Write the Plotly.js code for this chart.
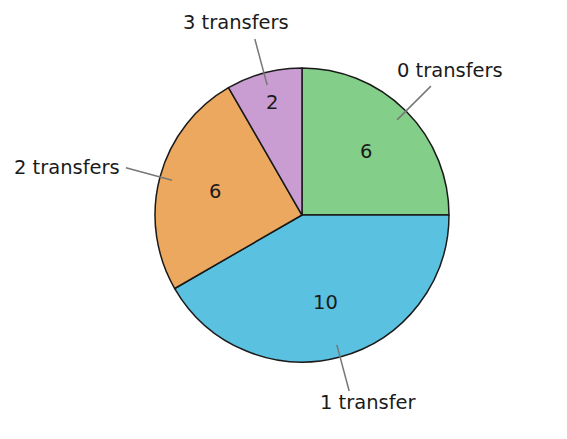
<!DOCTYPE html>
<html>
<head>
<meta charset="utf-8">
<script src="https://cdn.plot.ly/plotly-3.0.1.min.js"></script>
<style>
  html, body { margin: 0; padding: 0; background: #fff; }
  #chart { width: 567px; height: 439px; }
</style>
</head>
<body>
<div id="chart"></div>
<script>
// slices, clockwise from 12 o'clock
var labels = ['0 transfers', '1 transfer', '2 transfers', '3 transfers'];
var counts = [6, 10, 6, 2];
var colors = ['#83cf89', '#5bc1e0', '#eda85f', '#c99dd1'];

var W = 567, H = 439;
var cx = 302 / W, cy = 1 - 215 / H;  // pie centre in paper units
var R = 147;                          // radius in px
var total = counts.reduce(function (a, b) { return a + b; }, 0);
var txtFont = { family: 'DejaVu Sans', size: 19.5, color: '#1a1a1a' };

var trace = {
  type: 'pie',
  labels: labels,
  values: counts,
  sort: false,
  direction: 'clockwise',
  rotation: 0,
  marker: { colors: colors, line: { color: '#1a1a1a', width: 1.5 } },
  textinfo: 'none',
  domain: { x: [cx - R / W, cx + R / W], y: [cy - R / H, cy + R / H] },
  hoverinfo: 'label+value'
};

// leader lines, outside labels and counts, placed at each slice's middle angle
var shapes = [], annotations = [];
var acc = 0;
counts.forEach(function (v, i) {
  var frac = v / total;
  var mid = (acc + v / 2) / total * 2 * Math.PI;
  acc += v;
  var s = Math.sin(mid), c = Math.cos(mid);
  var r0 = 0.915 * R, r1 = 1.24 * R;

  // count inside the slice (thin slices get pushed outwards)
  var rv = (frac < 0.15 ? 0.79 : 0.615) * R;
  annotations.push({
    xref: 'paper', yref: 'paper', showarrow: false,
    x: cx + rv * s / W, y: cy + rv * c / H,
    xanchor: 'center', yanchor: 'middle',
    text: String(v), font: txtFont
  });

  shapes.push({
    type: 'line', xref: 'paper', yref: 'paper',
    x0: cx + r0 * s / W, y0: cy + r0 * c / H,
    x1: cx + r1 * s / W, y1: cy + r1 * c / H,
    line: { color: '#777777', width: 1.5 }
  });
  var a = {
    xref: 'paper', yref: 'paper', showarrow: false,
    x: cx + r1 * s / W, y: cy + r1 * c / H,
    text: labels[i], font: txtFont,
    yanchor: 'middle'
  };
  if (Math.abs(s) > 0.9) {
    a.xanchor = s > 0 ? 'left' : 'right';
    a.xshift = s > 0 ? 4 : -4;
  } else {
    a.xanchor = 'center';
    a.xshift = s > 0 ? 19 : -19;
    a.yshift = c > 0 ? 16 : -11;
  }
  annotations.push(a);
});

var layout = {
  width: W, height: H,
  margin: { l: 0, r: 0, t: 0, b: 0 },
  showlegend: false,
  paper_bgcolor: '#ffffff',
  font: { family: 'DejaVu Sans' },
  shapes: shapes,
  annotations: annotations
};

Plotly.newPlot('chart', [trace], layout, { displayModeBar: false });
</script>
</body>
</html>
